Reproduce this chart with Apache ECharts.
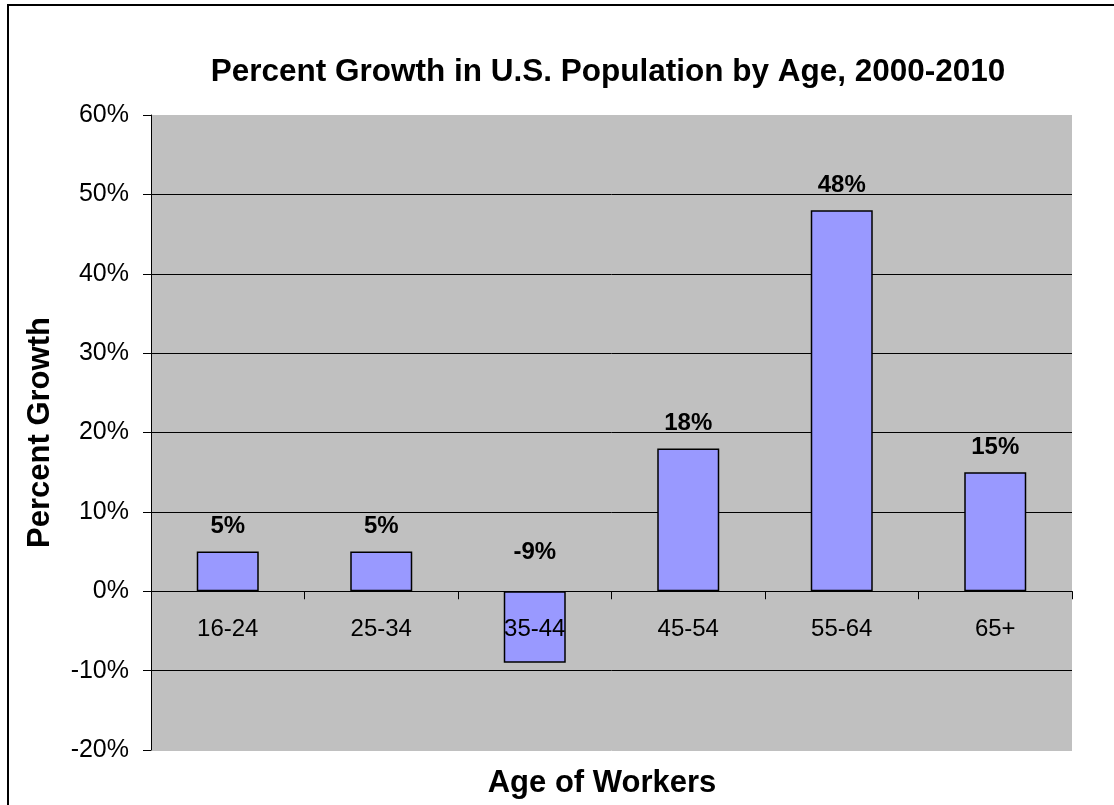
<!DOCTYPE html>
<html>
<head>
<meta charset="utf-8">
<script src="https://cdn.jsdelivr.net/npm/echarts@6/dist/echarts.min.js"></script>
<style>
html,body{margin:0;padding:0;background:#fff;overflow:hidden;}
#chart{width:1114px;height:805px;}
</style>
</head>
<body>
<div id="chart"></div>
<script>
const categories = ['16-24', '25-34', '35-44', '45-54', '55-64', '65+'];
const growthValues = [5, 5, -9, 18, 48, 15];
const yTicks = { min: -20, max: 60, interval: 10 };
const titleText = 'Percent Growth in U.S. Population by Age, 2000-2010';
const xAxisTitle = 'Age of Workers';
const yAxisTitle = 'Percent Growth';

const FONT = '"Liberation Sans", Arial, sans-serif';
const chart = echarts.init(document.getElementById('chart'), null, { renderer: 'canvas' });

const seriesData = growthValues.map(v => v < 0
  ? { value: v, label: { position: 'top', distance: 27 } }
  : v);

chart.setOption({
  animation: false,
  backgroundColor: '#ffffff',
  graphic: [{
    type: 'rect',
    shape: { x: 8, y: 5, width: 1300, height: 1000 },
    style: { fill: 'none', stroke: '#000', lineWidth: 2 },
    silent: true, z: 100
  }],
  title: [{
    text: titleText,
    left: 603, top: 51, textAlign: 'center',
    textStyle: { fontFamily: FONT, fontWeight: 'bold', fontSize: 31.5, color: '#000' }
  }, {
    text: xAxisTitle,
    left: 597, top: 763, textAlign: 'center',
    textStyle: { fontFamily: FONT, fontWeight: 'bold', fontSize: 31, color: '#000' }
  }],
  grid: {
    left: 151, right: 42, top: 115, bottom: 55,
    show: true, backgroundColor: '#c0c0c0', borderWidth: 0
  },
  xAxis: {
    type: 'category',
    data: categories,
    axisLine: { onZero: true, lineStyle: { color: '#000', width: 1 } },
    axisTick: { show: true, length: 8, lineStyle: { color: '#000' } },
    axisLabel: { margin: -133, fontFamily: FONT, fontSize: 24, color: '#000' },
    z: 10
  },
  yAxis: {
    type: 'value',
    min: yTicks.min, max: yTicks.max, interval: yTicks.interval,
    name: yAxisTitle,
    nameLocation: 'middle',
    nameRotate: 90,
    nameGap: 95,
    nameTextStyle: { fontFamily: FONT, fontWeight: 'bold', fontSize: 31, color: '#000' },
    axisLine: { show: true, lineStyle: { color: '#000', width: 1 } },
    axisTick: { show: true, length: 8, lineStyle: { color: '#000' } },
    axisLabel: { margin: 22, fontFamily: FONT, fontSize: 25, color: '#000', formatter: v => v + '%' },
    splitLine: { show: true, lineStyle: { color: ['#c0c0c0', '#000', '#000', '#000', '#000', '#000', '#000', '#000', '#c0c0c0'], width: 1 } }
  },
  series: [{
    type: 'bar',
    data: seriesData,
    barWidth: 62,
    itemStyle: { color: '#9999ff', borderColor: '#000', borderWidth: 1.5 },
    label: {
      show: true, position: 'top', distance: 13,
      fontFamily: FONT, fontWeight: 'bold', fontSize: 24, color: '#000',
      formatter: p => p.value + '%'
    },
    z: 2
  }]
});
</script>
</body>
</html>
